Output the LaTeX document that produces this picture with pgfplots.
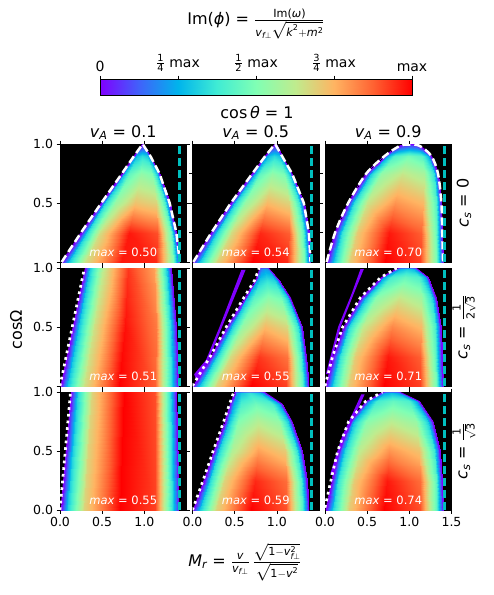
\documentclass[border=0pt]{standalone}
\usepackage{amsmath}
\usepackage{fontspec}
\setmainfont{DejaVu Sans}
\usepackage{pgfplots}
\pgfplotsset{compat=1.18}
\usepackage{pgfplotstable}

\definecolor{mpurple}{RGB}{128,0,255}
\definecolor{mcyan}{RGB}{0,191,191}
\newcommand{\mi}[1]{\text{\itshape #1}}
\newcommand{\tx}[1]{\text{#1}}

\pgfplotsset{
  colormap={mplrainbow}{rgb255(0cm)=(128,0,255) rgb255(1cm)=(64,98,250)
    rgb255(2cm)=(0,180,236) rgb255(3cm)=(64,236,212) rgb255(4cm)=(128,255,180)
    rgb255(5cm)=(191,236,142) rgb255(6cm)=(255,180,98) rgb255(7cm)=(255,98,50)
    rgb255(8cm)=(255,0,0)},
  panel/.style={scale only axis, width=126.5pt, height=118pt, anchor=north west,
    xmin=0, xmax=1.5, ymin=0, ymax=1,
    axis background/.style={fill=black},
    colormap name=mplrainbow, point meta min=0, point meta max=1,
    tick align=outside, major tick length=3.5pt,
    tick style={black, line width=0.6pt},
    axis line style={line width=0.8pt},
    xtick={0,0.5,1}, xticklabels={}, ytick=\empty,
    tick label style={font=\fontsize{12.5}{14}\selectfont}},
  heat/.style={surf, shader=interp, mesh/cols=7, point meta=\thisrow{c}},
  edge/.style={mpurple, line width=0.7pt},
  wdash/.style={white, line width=2.5pt, dash pattern=on 8pt off 4pt},
  wdot/.style={white, line width=2.7pt, dash pattern=on 2.7pt off 4pt},
  cdash/.style={mcyan, line width=2.6pt, dash pattern=on 8pt off 4pt},
}
\tikzset{maxlab/.style={anchor=base, text=white, font=\fontsize{11.5}{13}\selectfont}}

% heat maps: rows of constant y, 7 points each from left edge to right edge, c = fraction of max
\pgfplotstableread{
x y c
0.02 0 0
0.104 0 0.30
0.30 0 0.65
0.72 0 0.97
1.14 0 0.95
1.336 0 0.50
1.42 0 0
0.25 0.25 0
0.318 0.25 0.33
0.476 0.25 0.66
0.815 0.25 0.97
1.154 0.25 0.90
1.312 0.25 0.46
1.38 0.25 0
0.49 0.5 0
0.539 0.5 0.32
0.652 0.5 0.55
0.895 0.5 0.72
1.138 0.5 0.68
1.251 0.5 0.40
1.30 0.5 0
0.735 0.75 0
0.762 0.75 0.27
0.824 0.75 0.44
0.958 0.75 0.54
1.091 0.75 0.50
1.153 0.75 0.30
1.18 0.75 0
0.88 0.9 0
0.891 0.9 0.20
0.918 0.9 0.28
0.975 0.9 0.34
1.032 0.9 0.30
1.059 0.9 0.20
1.07 0.9 0
0.975 1.0 0
0.977 1.0 0
0.979 1.0 0
0.98 1.0 0
0.981 1.0 0
0.983 1.0 0
0.985 1.0 0
}\pA
\pgfplotstableread{
x y c
0.01 0 0
0.093 0 0.30
0.288 0 0.68
0.705 0 1.0
1.122 0 0.95
1.317 0 0.50
1.40 0 0
0.225 0.25 0
0.294 0.25 0.33
0.456 0.25 0.66
0.803 0.25 0.95
1.149 0.25 0.88
1.311 0.25 0.44
1.38 0.25 0
0.455 0.5 0
0.507 0.5 0.31
0.628 0.5 0.55
0.888 0.5 0.74
1.147 0.5 0.68
1.268 0.5 0.38
1.32 0.5 0
0.71 0.75 0
0.738 0.75 0.27
0.804 0.75 0.44
0.945 0.75 0.54
1.086 0.75 0.49
1.152 0.75 0.29
1.18 0.75 0
0.865 0.9 0
0.877 0.9 0.20
0.904 0.9 0.28
0.963 0.9 0.33
1.021 0.9 0.29
1.048 0.9 0.20
1.06 0.9 0
0.975 1.0 0
0.977 1.0 0
0.979 1.0 0
0.98 1.0 0
0.981 1.0 0
0.983 1.0 0
0.985 1.0 0
}\pB
\pgfplotstableread{
x y c
0.02 0 0
0.103 0 0.30
0.296 0 0.70
0.71 0 1.0
1.124 0 0.92
1.317 0 0.50
1.40 0 0
0.12 0.25 0
0.196 0.25 0.35
0.374 0.25 0.70
0.755 0.25 0.97
1.136 0.25 0.88
1.314 0.25 0.46
1.39 0.25 0
0.275 0.5 0
0.341 0.5 0.34
0.496 0.5 0.64
0.828 0.5 0.80
1.159 0.5 0.74
1.314 0.5 0.42
1.38 0.5 0
0.49 0.75 0
0.541 0.75 0.31
0.66 0.75 0.54
0.915 0.75 0.64
1.17 0.75 0.58
1.289 0.75 0.35
1.34 0.75 0
0.71 0.9 0
0.743 0.9 0.25
0.82 0.9 0.40
0.985 0.9 0.48
1.15 0.9 0.42
1.227 0.9 0.27
1.26 0.9 0
0.89 0.99 0
0.904 0.99 0
0.936 0.99 0.05
1.005 0.99 0.08
1.074 0.99 0.05
1.106 0.99 0
1.12 0.99 0
}\pC
\pgfplotstableread{
x y c
0.01 0 0
0.093 0 0.30
0.288 0 0.65
0.705 0 1.0
1.122 0 0.88
1.317 0 0.35
1.40 0 0
0.155 0.5 0
0.229 0.5 0.30
0.40 0.5 0.65
0.768 0.5 0.98
1.135 0.5 0.84
1.307 0.5 0.35
1.38 0.5 0
0.30 1.0 0
0.361 1.0 0.30
0.504 1.0 0.62
0.81 1.0 0.93
1.116 1.0 0.78
1.259 1.0 0.33
1.32 1.0 0
}\pD
\pgfplotstableread{
x y c
0.01 0 0
0.092 0 0.30
0.284 0 0.68
0.695 0 1.0
1.106 0 0.92
1.298 0 0.45
1.38 0 0
0.22 0.25 0
0.288 0.25 0.33
0.446 0.25 0.66
0.785 0.25 0.93
1.124 0.25 0.85
1.282 0.25 0.40
1.35 0.25 0
0.41 0.5 0
0.463 0.5 0.31
0.588 0.5 0.55
0.855 0.5 0.74
1.122 0.5 0.67
1.247 0.5 0.36
1.30 0.5 0
0.62 0.75 0
0.652 0.75 0.27
0.728 0.75 0.43
0.89 0.75 0.53
1.052 0.75 0.48
1.128 0.75 0.29
1.16 0.75 0
0.75 0.9 0
0.766 0.9 0.21
0.804 0.9 0.30
0.885 0.9 0.35
0.966 0.9 0.32
1.004 0.9 0.21
1.02 0.9 0
0.80 1.0 0
0.806 1.0 0.10
0.82 1.0 0.17
0.85 1.0 0.20
0.88 1.0 0.18
0.894 1.0 0.10
0.90 1.0 0
}\pE
\pgfplotstableread{
x y c
0.01 0 0
0.093 0 0.32
0.288 0 0.70
0.705 0 1.0
1.122 0 0.92
1.317 0 0.48
1.40 0 0
0.10 0.25 0
0.177 0.25 0.35
0.357 0.25 0.70
0.743 0.25 0.97
1.128 0.25 0.88
1.308 0.25 0.45
1.385 0.25 0
0.22 0.5 0
0.289 0.5 0.33
0.45 0.5 0.63
0.795 0.5 0.82
1.14 0.5 0.74
1.301 0.5 0.40
1.37 0.5 0
0.43 0.75 0
0.483 0.75 0.29
0.608 0.75 0.52
0.875 0.75 0.64
1.142 0.75 0.57
1.267 0.75 0.33
1.32 0.75 0
0.67 0.92 0
0.703 0.92 0.23
0.78 0.92 0.38
0.945 0.92 0.45
1.11 0.92 0.40
1.187 0.92 0.25
1.22 0.92 0
0.86 1.0 0
0.873 1.0 0.15
0.904 1.0 0.24
0.97 1.0 0.28
1.036 1.0 0.25
1.067 1.0 0.15
1.08 1.0 0
}\pF
\pgfplotstableread{
x y c
0.01 0 0
0.094 0 0.32
0.29 0 0.68
0.71 0 1.0
1.13 0 0.92
1.326 0 0.35
1.41 0 0
0.135 1.0 0
0.21 1.0 0.32
0.384 1.0 0.68
0.758 1.0 1.0
1.131 1.0 0.90
1.305 1.0 0.35
1.38 1.0 0
}\pG
\pgfplotstableread{
x y c
0.01 0 0
0.092 0 0.30
0.284 0 0.68
0.695 0 1.0
1.106 0 0.90
1.298 0 0.42
1.38 0 0
0.135 0.25 0
0.208 0.25 0.33
0.379 0.25 0.68
0.745 0.25 0.95
1.111 0.25 0.86
1.282 0.25 0.41
1.355 0.25 0
0.255 0.5 0
0.318 0.5 0.32
0.464 0.5 0.60
0.778 0.5 0.78
1.091 0.5 0.70
1.237 0.5 0.36
1.30 0.5 0
0.38 0.75 0
0.428 0.75 0.29
0.54 0.75 0.51
0.78 0.75 0.61
1.02 0.75 0.54
1.132 0.75 0.31
1.18 0.75 0
0.45 0.9 0
0.487 0.9 0.24
0.572 0.9 0.40
0.755 0.9 0.47
0.938 0.9 0.41
1.023 0.9 0.24
1.06 0.9 0
0.50 1.0 0
0.521 1.0 0.17
0.57 1.0 0.28
0.675 1.0 0.34
0.78 1.0 0.28
0.829 1.0 0.17
0.85 1.0 0
}\pH
\pgfplotstableread{
x y c
0.01 0 0
0.093 0 0.32
0.288 0 0.70
0.705 0 1.0
1.122 0 0.90
1.317 0 0.45
1.40 0 0
0.08 0.25 0
0.159 0.25 0.35
0.342 0.25 0.70
0.735 0.25 0.97
1.128 0.25 0.86
1.311 0.25 0.44
1.39 0.25 0
0.16 0.5 0
0.232 0.5 0.33
0.40 0.5 0.62
0.76 0.5 0.80
1.12 0.5 0.72
1.288 0.5 0.38
1.36 0.5 0
0.29 0.75 0
0.349 0.75 0.29
0.488 0.75 0.52
0.785 0.75 0.62
1.082 0.75 0.55
1.221 0.75 0.31
1.28 0.75 0
0.49 0.92 0
0.528 0.92 0.23
0.616 0.92 0.38
0.805 0.92 0.45
0.994 0.92 0.40
1.082 0.92 0.24
1.12 0.92 0
0.69 1.0 0
0.702 1.0 0.14
0.729 1.0 0.21
0.788 1.0 0.25
0.846 1.0 0.21
0.873 1.0 0.14
0.885 1.0 0
}\pI
\pgfplotstableread{
x y c
0 0 0
0.125 0 0.125
0.25 0 0.25
0.375 0 0.375
0.5 0 0.5
0.625 0 0.625
0.75 0 0.75
0.875 0 0.875
1 0 1
0 1 0
0.125 1 0.125
0.25 1 0.25
0.375 1 0.375
0.5 1 0.5
0.625 1 0.625
0.75 1 0.75
0.875 1 0.875
1 1 1
}\cbar

\begin{document}
\begin{tikzpicture}
\path[use as bounding box] (0pt,0pt) rectangle (494pt,-595pt);

% colorbar
\begin{axis}[at={(100pt,-79pt)}, anchor=north west, scale only axis,
  width=312pt, height=16pt, xmin=0, xmax=1, ymin=0, ymax=1, ytick=\empty,
  xtick={0,0.25,0.5,0.75,1},
  xticklabels={0, {$\frac{\tx{1}}{\tx{4}}$ max}, {$\frac{\tx{1}}{\tx{2}}$ max}, {$\frac{\tx{3}}{\tx{4}}$ max}, max},
  xtick pos=right, xticklabel pos=right, tick align=outside, major tick length=3.5pt,
  tick style={black, line width=0.6pt}, axis line style={line width=0.8pt},
  colormap name=mplrainbow, point meta min=0, point meta max=1,
  tick label style={font=\fontsize{14}{16}\selectfont}, axis on top]
\addplot[heat, mesh/cols=9] table {\cbar};
\end{axis}

% row 1: c_s = 0
\begin{axis}[panel, at={(60pt,-144pt)}, ytick={0,0.5,1}, yticklabels={,0.5,1.0}]
\addplot[heat] table {\pA};
\addplot[edge] coordinates {(0.02,0) (0.25,0.25) (0.49,0.5) (0.735,0.75) (0.88,0.9) (0.98,1.0) (1.07,0.9) (1.18,0.75) (1.30,0.5) (1.38,0.25) (1.42,0)};
\addplot[wdash] coordinates {(0.02,0) (0.25,0.25) (0.49,0.5) (0.735,0.75) (0.88,0.9) (0.98,1.0) (1.07,0.9) (1.18,0.75) (1.30,0.5) (1.38,0.25) (1.42,0)};
\addplot[cdash] coordinates {(1.414,0) (1.414,1)};
\node[maxlab] at (axis cs:0.75,0.05) {\textit{max} = 0.50};
\end{axis}
\begin{axis}[panel, at={(192.5pt,-144pt)}, ytick={0.25,0.5,0.75}, yticklabels={}]
\addplot[heat] table {\pB};
\addplot[edge] coordinates {(0.01,0) (0.225,0.25) (0.455,0.5) (0.71,0.75) (0.865,0.9) (0.98,1.0) (1.06,0.9) (1.18,0.75) (1.32,0.5) (1.38,0.25) (1.40,0)};
\addplot[wdash] coordinates {(0.01,0) (0.225,0.25) (0.455,0.5) (0.71,0.75) (0.865,0.9) (0.98,1.0) (1.06,0.9) (1.18,0.75) (1.32,0.5) (1.38,0.25) (1.40,0)};
\addplot[cdash] coordinates {(1.414,0) (1.414,1)};
\node[maxlab] at (axis cs:0.75,0.05) {\textit{max} = 0.54};
\end{axis}
\begin{axis}[panel, at={(325pt,-144pt)}]
\addplot[heat] table {\pC};
\addplot[edge, smooth] coordinates {(0.02,0) (0.12,0.25) (0.275,0.5) (0.49,0.75) (0.71,0.9) (0.89,0.985) (1.0,0.995) (1.12,0.985) (1.26,0.9) (1.34,0.75) (1.38,0.5) (1.39,0.25) (1.40,0)};
\addplot[wdash, smooth] coordinates {(0.02,0) (0.12,0.25) (0.275,0.5) (0.49,0.75) (0.71,0.9) (0.89,0.985) (1.0,0.995) (1.12,0.985) (1.26,0.9) (1.34,0.75) (1.38,0.5) (1.39,0.25) (1.40,0)};
\addplot[cdash] coordinates {(1.414,0) (1.414,1)};
\node[maxlab] at (axis cs:0.75,0.05) {\textit{max} = 0.70};
\end{axis}

% row 2: c_s = 1/(2 sqrt 3)
\begin{axis}[panel, at={(60pt,-268pt)}, ytick={0,0.5,1}, yticklabels={,0.5,1.0}]
\addplot[heat] table {\pD};
\addplot[edge] coordinates {(0.01,0) (0.30,1.0)};
\addplot[edge] coordinates {(1.40,0) (1.38,0.5) (1.32,1.0)};
\addplot[wdot] coordinates {(0.0,0) (0.29,1.0)};
\addplot[cdash] coordinates {(1.414,0) (1.414,1)};
\node[maxlab] at (axis cs:0.75,0.05) {\textit{max} = 0.51};
\end{axis}
\begin{axis}[panel, at={(192.5pt,-268pt)}]
\addplot[heat] table {\pE};
\addplot[fill=mpurple, draw=none] coordinates {(0.02,0.1) (0.16,0.22) (0.32,0.5) (0.58,0.985) (0.63,0.985) (0.35,0.5) (0.19,0.22) (0.06,0.02)};
\addplot[edge] coordinates {(0.01,0) (0.22,0.25) (0.41,0.5) (0.62,0.75) (0.75,0.9) (0.80,1.0) (0.90,1.0) (1.02,0.9) (1.16,0.75) (1.30,0.5) (1.35,0.25) (1.38,0)};
\addplot[wdot] coordinates {(0.0,0.0) (0.21,0.25) (0.40,0.5) (0.61,0.75) (0.74,0.9) (0.79,1.0)};
\addplot[cdash] coordinates {(1.414,0) (1.414,1)};
\node[maxlab] at (axis cs:0.75,0.05) {\textit{max} = 0.55};
\end{axis}
\begin{axis}[panel, at={(325pt,-268pt)}]
\addplot[heat] table {\pF};
\addplot[fill=mpurple, draw=none] coordinates {(0.01,0.1) (0.155,0.5) (0.315,0.78) (0.42,0.99) (0.46,0.99) (0.34,0.78) (0.185,0.5) (0.04,0.1)};
\addplot[edge] coordinates {(0.01,0) (0.10,0.25) (0.22,0.5) (0.43,0.75) (0.67,0.92) (0.86,1.0) (1.08,1.0) (1.22,0.92) (1.32,0.75) (1.37,0.5) (1.385,0.25) (1.40,0)};
\addplot[wdot] coordinates {(0.0,0.0) (0.09,0.25) (0.21,0.5) (0.42,0.75) (0.66,0.92) (0.85,1.0)};
\addplot[cdash] coordinates {(1.414,0) (1.414,1)};
\node[maxlab] at (axis cs:0.75,0.05) {\textit{max} = 0.71};
\end{axis}

% row 3: c_s = 1/sqrt 3
\begin{axis}[panel, at={(60pt,-392pt)}, ytick={0,0.5,1}, yticklabels={0.0,0.5,1.0}, xticklabels={0.0,0.5,1.0}]
\addplot[heat] table {\pG};
\addplot[edge] coordinates {(0.01,0) (0.135,1.0)};
\addplot[edge] coordinates {(1.41,0) (1.38,1.0)};
\addplot[wdot] coordinates {(0.0,0) (0.125,1.0)};
\addplot[cdash] coordinates {(1.414,0) (1.414,1)};
\node[maxlab] at (axis cs:0.75,0.05) {\textit{max} = 0.55};
\end{axis}
\begin{axis}[panel, at={(192.5pt,-392pt)}, xticklabels={0.0,0.5,1.0}]
\addplot[heat] table {\pH};
\addplot[edge] coordinates {(0.01,0) (0.135,0.25) (0.255,0.5) (0.38,0.75) (0.45,0.9) (0.50,1.0) (0.85,1.0) (1.06,0.9) (1.18,0.75) (1.30,0.5) (1.355,0.25) (1.38,0)};
\addplot[wdot] coordinates {(0.0,0) (0.125,0.25) (0.245,0.5) (0.37,0.75) (0.44,0.9) (0.49,1.0)};
\addplot[cdash] coordinates {(1.414,0) (1.414,1)};
\node[maxlab] at (axis cs:0.75,0.05) {\textit{max} = 0.59};
\end{axis}
\begin{axis}[panel, at={(325pt,-392pt)}, xtick={0,0.5,1,1.5}, xticklabels={0.0,0.5,1.0,1.5}]
\addplot[heat] table {\pI};
\addplot[fill=mpurple, draw=none] coordinates {(0.06,0.3) (0.20,0.62) (0.43,0.98) (0.47,0.98) (0.24,0.62) (0.09,0.3)};
\addplot[edge] coordinates {(0.01,0) (0.08,0.25) (0.16,0.5) (0.29,0.75) (0.49,0.92) (0.69,1.0) (0.885,1.0) (1.12,0.92) (1.28,0.75) (1.36,0.5) (1.39,0.25) (1.40,0)};
\addplot[wdot] coordinates {(0.0,0.02) (0.07,0.25) (0.15,0.5) (0.28,0.75) (0.48,0.92) (0.68,1.0)};
\addplot[cdash] coordinates {(1.414,0) (1.414,1)};
\node[maxlab] at (axis cs:0.75,0.05) {\textit{max} = 0.74};
\end{axis}

% titles and labels
\node[font=\fontsize{16}{18}\selectfont] at (256pt,-24pt)
  {Im(\textit{ϕ}) = $\frac{\tx{Im(\textit{ω})}}{\mi{v}_{\mi{f}\perp}\sqrt{\mi{k}^{\tx{2}}+\mi{m}^{\tx{2}}}}$};
\node[font=\fontsize{16}{18}\selectfont, anchor=base] at (257pt,-118pt) {cos\,\textit{θ} = 1};
\node[font=\fontsize{16}{18}\selectfont, anchor=base] at (123.3pt,-137pt) {$\mi{v}_{\mi{A}}$ = 0.1};
\node[font=\fontsize{16}{18}\selectfont, anchor=base] at (255.7pt,-137pt) {$\mi{v}_{\mi{A}}$ = 0.5};
\node[font=\fontsize{16}{18}\selectfont, anchor=base] at (388.2pt,-137pt) {$\mi{v}_{\mi{A}}$ = 0.9};
\node[font=\fontsize{16}{18}\selectfont, rotate=90] at (464pt,-203pt) {$\mi{c}_{\mi{s}}$ = 0};
\node[font=\fontsize{16}{18}\selectfont, rotate=90] at (464pt,-327pt) {$\mi{c}_{\mi{s}}$ = $\frac{\tx{1}}{\tx{2}\sqrt{\tx{3}}}$};
\node[font=\fontsize{16}{18}\selectfont, rotate=90] at (464pt,-451pt) {$\mi{c}_{\mi{s}}$ = $\frac{\tx{1}}{\sqrt{\tx{3}}}$};
\node[font=\fontsize{16}{18}\selectfont, rotate=90] at (16pt,-330pt) {cosΩ};
\node[font=\fontsize{16}{18}\selectfont] at (245pt,-562pt)
  {$\mi{M}_{\mi{r}}$ = $\frac{\mi{v}}{\mi{v}_{\mi{f}\perp}}\,\frac{\sqrt{\tx{1}-\mi{v}_{\mi{f}\perp}^{\tx{2}}}}{\sqrt{\tx{1}-\mi{v}^{\tx{2}}}}$};
\end{tikzpicture}
\end{document}
